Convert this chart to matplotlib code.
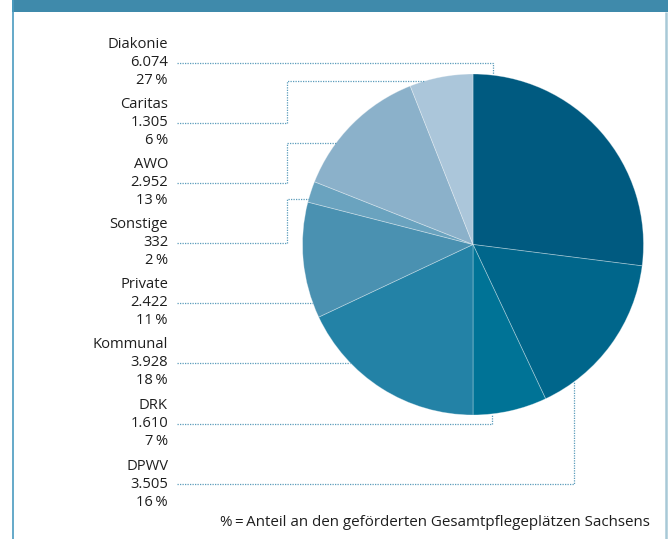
import matplotlib
matplotlib.use("Agg")
import matplotlib.pyplot as plt
from matplotlib.patches import Rectangle
import numpy as np

plt.rcParams['font.family'] = ['Open Sans', 'DejaVu Sans']

# ---- data ----
categories = ["Diakonie", "DPWV", "DRK", "Kommunal", "Private", "Sonstige", "AWO", "Caritas"]
values = [6074, 3505, 1610, 3928, 2422, 332, 2952, 1305]
shares = [27, 16, 7, 18, 11, 2, 13, 6]
colors = ["#005a80", "#00668b", "#007396", "#2382a6", "#4a91b1", "#6aa3bf", "#8bb1ca", "#abc6da"]
label_order = ["Diakonie", "Caritas", "AWO", "Sonstige", "Private", "Kommunal", "DRK", "DPWV"]
note = "%\u2009=\u2009Anteil an den geförderten Gesamtpflegeplätzen Sachsens"

W, H = 668, 539
fig = plt.figure(figsize=(W / 100, H / 100), dpi=100)
ax = fig.add_axes([0, 0, 1, 1])

# pie (y axis inverted: startangle -90 + counterclock draws clockwise from top)
cx, cy, R = 473, 244.5, 170.5
wedges, _ = ax.pie(shares, colors=colors, startangle=-90, counterclock=True,
                   center=(cx, cy), radius=R, frame=True,
                   wedgeprops=dict(edgecolor=(1, 1, 1, 0.35), linewidth=0.6))
ax.set_xlim(0, W)
ax.set_ylim(H, 0)
ax.set_aspect('equal')
ax.axis('off')

# frame
ax.add_patch(Rectangle((12, 0), W - 12, 11.5, color="#3f8aab", lw=0))
ax.plot([12.6, 12.6], [0, H], color="#4a9bc0", lw=1.2, solid_capstyle='butt')
ax.plot([665.8, 665.8], [11.5, H], color="#a8c9d7", lw=1.8, solid_capstyle='butt')

lead_col = "#5b9cbb"
ls = (0, (1.0, 1.0))
lw = 0.9

# label layout: (value-line y, route)
layout = {
    "Diakonie": (62.5, ("vtop", 493)),
    "Caritas": (122.5, ("elbow", 287, 81)),
    "AWO": (182.5, ("elbow", 287, 143)),
    "Sonstige": (242.5, ("elbow", 287, 199)),
    "Private": (302.5, ("direct",)),
    "Kommunal": (362.5, ("direct",)),
    "DRK": (423.5, ("vbot", 492)),
    "DPWV": (484, ("vbot", 574)),
}

tx = 168
x0 = 177
fs = 10.6
tc = "#1e1e1e"
for name in label_order:
    i = categories.index(name)
    v = values[i]
    pct = shares[i]
    y, route = layout[name]
    vs = f"{v:,}".replace(",", ".")
    ax.text(tx, y - 18, name, ha='right', va='center', fontsize=fs, color=tc)
    ax.text(tx, y, vs, ha='right', va='center', fontsize=fs, color=tc)
    ax.text(tx, y + 18, f"{pct}\u2009%", ha='right', va='center', fontsize=fs, color=tc)

    kw = dict(color=lead_col, lw=lw, linestyle=ls, solid_capstyle='butt')
    if route[0] == "vtop":
        ex = route[1]
        ey = cy - np.sqrt(R**2 - (ex - cx)**2)
        ax.plot([x0, ex, ex], [y, y, ey], **kw)
    elif route[0] == "vbot":
        ex = route[1]
        ey = cy + np.sqrt(R**2 - (ex - cx)**2)
        ax.plot([x0, ex, ex], [y, y, ey], **kw)
    elif route[0] == "elbow":
        ex, ey = route[1], route[2]
        px = cx - np.sqrt(R**2 - (ey - cy)**2)
        ax.plot([x0, ex, ex, px], [y, y, ey, ey], **kw)
    else:
        px = cx - np.sqrt(R**2 - (y - cy)**2)
        ax.plot([x0, px], [y, y], **kw)

ax.text(220, 522, note, ha='left', va='center', fontsize=10.9, color=tc)

fig.savefig("out.png", dpi=100)
